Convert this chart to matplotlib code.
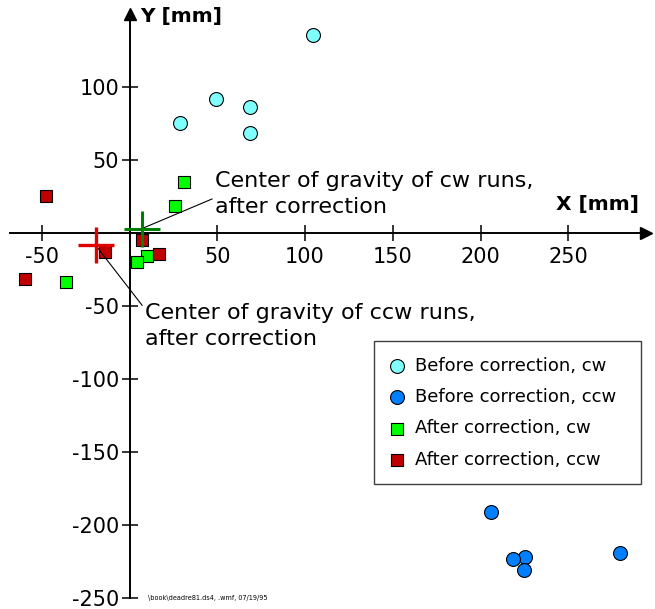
import numpy as np
import matplotlib
matplotlib.use('Agg')
import matplotlib.pyplot as plt

# data (mm)
before_cw_x = [28.8, 49.4, 68.8, 68.8, 104.5]
before_cw_y = [75.3, 92.2, 86.3, 68.5, 135.6]
before_ccw_x = [206.1, 225.3, 218.7, 224.6, 279.4]
before_ccw_y = [-190.9, -221.5, -223.3, -230.8, -219.2]
after_cw_x = [31.2, 25.8, 9.8, 4.1, -36.3]
after_cw_y = [35.3, 18.9, -15.3, -19.7, -33.4]
after_ccw_x = [-47.6, 7.0, -14.0, 16.6, -59.5]
after_ccw_y = [25.5, -4.6, -12.6, -14.2, -31.5]
cog_cw = (7.0, 3.2)
cog_ccw = (-19.3, -8.2)

x_ticks = [-50, 50, 100, 150, 200, 250]
y_ticks = [-250, -200, -150, -100, -50, 50, 100]

CYAN = '#80ffff'
BLUE = '#0080ff'
GREEN = '#00ff00'
RED = '#c00000'

fig = plt.figure(figsize=(6.55, 6.09), dpi=100)
ax = fig.add_axes([0, 0, 1, 1])
ax.set_xlim(-73.8, 299.4)
ax.set_ylim(-257.3, 159.8)

# axes through the origin
for side in ['top', 'right']:
    ax.spines[side].set_visible(False)
ax.spines['left'].set_position(('data', 0))
ax.spines['bottom'].set_position(('data', 0))
ax.spines['left'].set_bounds(-250, 150)
ax.spines['bottom'].set_bounds(-68, 294)
ax.spines['left'].set_linewidth(1.4)
ax.spines['bottom'].set_linewidth(1.4)
ax.plot(294, 0, '>k', markersize=8, clip_on=False)
ax.plot(0, 150, '^k', markersize=8, clip_on=False)

ax.set_xticks(x_ticks)
ax.set_yticks(y_ticks)
ax.set_xticklabels([str(v) for v in x_ticks])
ax.set_yticklabels([str(v) for v in y_ticks])
ax.tick_params(axis='both', direction='inout', length=11, width=1.1, labelsize=15)
ax.tick_params(axis='x', pad=4)
ax.tick_params(axis='y', pad=2)

# scatter series
ax.scatter(before_cw_x, before_cw_y, s=100, marker='o', facecolor=CYAN,
           edgecolor='black', linewidth=0.8, zorder=3, label='Before correction, cw')
ax.scatter(before_ccw_x, before_ccw_y, s=100, marker='o', facecolor=BLUE,
           edgecolor='black', linewidth=0.8, zorder=3, label='Before correction, ccw')
ax.scatter(after_cw_x, after_cw_y, s=80, marker='s', facecolor=GREEN,
           edgecolor='black', linewidth=0.8, zorder=3, label='After correction, cw')
ax.scatter(after_ccw_x, after_ccw_y, s=80, marker='s', facecolor=RED,
           edgecolor='black', linewidth=0.8, zorder=3, label='After correction, ccw')

# centers of gravity
ax.plot(*cog_cw, marker='+', markersize=26, mew=2.2, color='#008000', zorder=4)
ax.plot(*cog_ccw, marker='+', markersize=26, mew=2.4, color='#e00000', zorder=4)

ax.annotate('Center of gravity of cw runs,\nafter correction', xy=cog_cw,
            xytext=(48.7, 26.9), fontsize=16, ha='left', va='center',
            linespacing=1.38,
            arrowprops=dict(arrowstyle='-', color='black', lw=0.8,
                            shrinkA=0, shrinkB=0, relpos=(0, 0.42)))
ax.annotate('Center of gravity of ccw runs,\nafter correction', xy=cog_ccw,
            xytext=(8.8, -63.5), fontsize=16, ha='left', va='center',
            linespacing=1.38,
            arrowprops=dict(arrowstyle='-', color='black', lw=0.8,
                            shrinkA=0, shrinkB=0, relpos=(0, 0.87)))

ax.text(6.0, 148.2, 'Y [mm]', fontsize=14.5, fontweight='bold', ha='left', va='center')
ax.text(242.9, 19.4, 'X [mm]', fontsize=14.5, fontweight='bold', ha='left', va='center')
ax.text(10.5, -249.8, '\\book\\deadre81.ds4, .wmf, 07/19/95', fontsize=4.7,
        ha='left', va='center')

leg = fig.legend(loc='upper left', bbox_to_anchor=(0.571, 0.205, 0.408, 0.235),
                 mode='expand', fontsize=13, fancybox=False, edgecolor='#404040',
                 framealpha=1, handlelength=0.8, handletextpad=0.62,
                 borderpad=0.86, labelspacing=0.74, borderaxespad=0,
                 scatterpoints=1)
leg.get_frame().set_linewidth(1.0)

fig.savefig('out.png', dpi=100)
